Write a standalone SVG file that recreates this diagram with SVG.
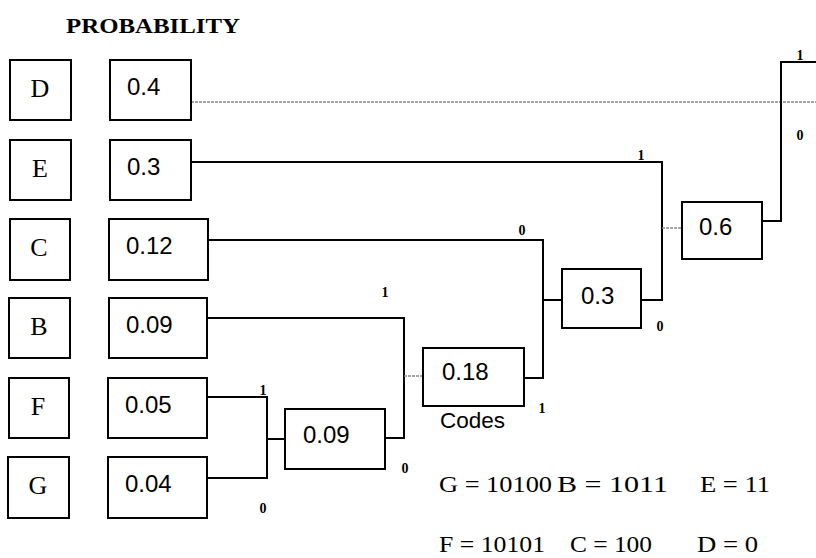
<svg xmlns="http://www.w3.org/2000/svg" width="816" height="558" viewBox="0 0 816 558">
<style>
.box{fill:#fff;stroke:#000;stroke-width:2}
.lbl{font-family:"Liberation Serif",serif;font-size:26px;text-anchor:middle}
.val{font-family:"Liberation Sans",sans-serif;font-size:24px}
.bit{font-family:"Liberation Serif",serif;font-size:14px;font-weight:bold;text-anchor:middle}
.code{font-family:"Liberation Serif",serif;font-size:24px}
.ln{fill:none;stroke:#000;stroke-width:2}
.dot{fill:none;stroke:#888;stroke-width:1.5;stroke-dasharray:3 1}
</style>
<rect width="816" height="558" fill="#fff"/>
<text x="66" y="33" font-family="Liberation Serif, serif" font-size="20" font-weight="bold" textLength="174" lengthAdjust="spacingAndGlyphs">PROBABILITY</text>
<g id="connectors">
<path class="dot" d="M191 102 H816"/>
<path class="ln" d="M207 397 H267 V478 H207"/>
<path class="ln" d="M267 439 H285"/>
<path class="ln" d="M207 318 H404 V438 H385"/>
<path class="dot" d="M404 376 H423"/>
<path class="ln" d="M208 240 H543 V378 H524"/>
<path class="ln" d="M543 300 H562"/>
<path class="ln" d="M191 162 H662 V300 H641"/>
<path class="dot" d="M662 228 H682"/>
<path class="ln" d="M762 221 H781 V62 H816"/>
<text class="bit" x="263" y="395">1</text>
<text class="bit" x="263" y="513">0</text>
<text class="bit" x="385" y="297">1</text>
<text class="bit" x="405" y="473">0</text>
<text class="bit" x="542" y="413">1</text>
<text class="bit" x="522" y="235">0</text>
<text class="bit" x="641" y="160">1</text>
<text class="bit" x="660" y="331">0</text>
<text class="bit" x="800" y="60">1</text>
<text class="bit" x="800" y="140">0</text>
</g>
<g id="sym-D"><rect class="box" x="10" y="60" width="61" height="60"/><text class="lbl" x="40" y="97">D</text></g>
<g id="sym-E"><rect class="box" x="10" y="140" width="61" height="60"/><text class="lbl" x="40" y="177">E</text></g>
<g id="sym-C"><rect class="box" x="10" y="219" width="60" height="61"/><text class="lbl" x="39" y="256">C</text></g>
<g id="sym-B"><rect class="box" x="9" y="298" width="61" height="60"/><text class="lbl" x="39" y="335">B</text></g>
<g id="sym-F"><rect class="box" x="9" y="378" width="60" height="60"/><text class="lbl" x="38" y="415">F</text></g>
<g id="sym-G"><rect class="box" x="8" y="457" width="61" height="61"/><text class="lbl" x="38" y="494">G</text></g>
<g id="p-D"><rect class="box" x="110" y="60" width="81" height="60"/><text class="val" x="127" y="95">0.4</text></g>
<g id="p-E"><rect class="box" x="110" y="140" width="81" height="60"/><text class="val" x="127" y="175">0.3</text></g>
<g id="p-C"><rect class="box" x="109" y="219" width="99" height="61"/><text class="val" x="126" y="254">0.12</text></g>
<g id="p-B"><rect class="box" x="109" y="298" width="98" height="60"/><text class="val" x="126" y="333">0.09</text></g>
<g id="p-F"><rect class="box" x="108" y="378" width="99" height="60"/><text class="val" x="125" y="413">0.05</text></g>
<g id="p-G"><rect class="box" x="108" y="457" width="99" height="61"/><text class="val" x="125" y="492">0.04</text></g>
<g id="n-009"><rect class="box" x="285" y="409" width="100" height="60"/><text class="val" x="303" y="443">0.09</text></g>
<g id="n-018"><rect class="box" x="423" y="348" width="101" height="58"/><text class="val" x="442" y="380">0.18</text></g>
<g id="n-03"><rect class="box" x="562" y="269" width="79" height="59"/><text class="val" x="581" y="304">0.3</text></g>
<g id="n-06"><rect class="box" x="682" y="202" width="80" height="57"/><text class="val" x="699" y="235">0.6</text></g>
<g id="codes">
<text x="440" y="428" font-family="Liberation Sans, sans-serif" font-size="22" textLength="65" lengthAdjust="spacingAndGlyphs">Codes</text>
<text class="code" x="439" y="492" textLength="113" lengthAdjust="spacingAndGlyphs">G = 10100</text>
<text class="code" x="557" y="492" textLength="111" lengthAdjust="spacingAndGlyphs">B = 1011</text>
<text class="code" x="700" y="492" textLength="70" lengthAdjust="spacingAndGlyphs">E = 11</text>
<text class="code" x="439" y="552" textLength="106" lengthAdjust="spacingAndGlyphs">F = 10101</text>
<text class="code" x="570" y="552" textLength="82" lengthAdjust="spacingAndGlyphs">C = 100</text>
<text class="code" x="697" y="552" textLength="61" lengthAdjust="spacingAndGlyphs">D = 0</text>
</g>
</svg>
